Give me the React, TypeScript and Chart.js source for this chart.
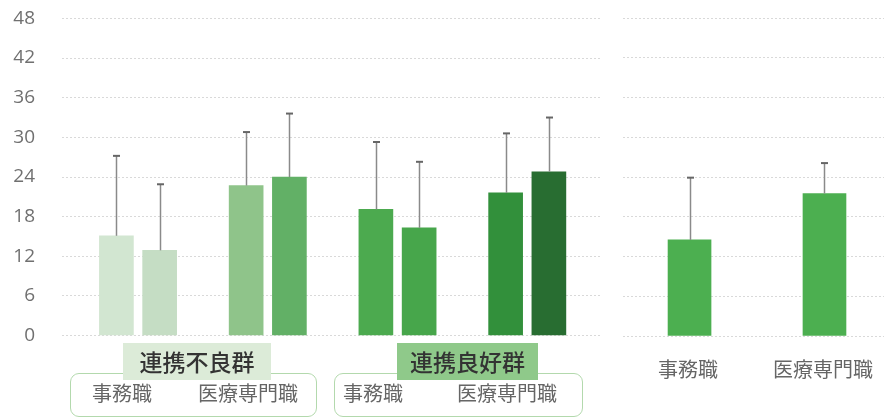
import React, { useEffect, useRef } from "react";
import { Chart, registerables } from "chart.js";

Chart.register(...registerables);

// ---- data ----
const groupNames = ["連携不良群", "連携良好群"];
const jobNames = ["事務職", "医療専門職"];
// left panel: per group, per job, two bars each
const leftMeans = [15.1, 12.9, 22.7, 24.0, 19.1, 16.3, 21.6, 24.8];
const leftSD = [12.1, 10.0, 8.1, 9.6, 10.2, 10.0, 9.0, 8.2];
const leftColors = ["#d2e6d1", "#c5ddc4", "#8fc48a", "#62b066", "#4caa4f", "#47a64b", "#32903b", "#286d31"];
// right panel: overall per job
const rightMeans = [14.5, 21.5];
const rightSD = [9.4, 4.6];
const rightColors = ["#4caf50", "#4caf50"];
const yMax = 48;
const yStep = 6;

const FONT_CJK = '"Noto Sans CJK JP", "Noto Sans", sans-serif';

function errorPlugin(means: number[], sds: number[]) {
  return {
    id: "errbars",
    afterDatasetsDraw(chart: any) {
      const ctx = chart.ctx;
      const meta = chart.getDatasetMeta(0);
      const y = chart.scales.y;
      ctx.save();
      meta.data.forEach((bar: any, i: number) => {
        const top = y.getPixelForValue(means[i] + sds[i]);
        const x = Math.round(bar.x) + 0.5;
        ctx.strokeStyle = "#8a8a8a";
        ctx.lineWidth = 1.5;
        ctx.beginPath();
        ctx.moveTo(x, bar.y);
        ctx.lineTo(x, top);
        ctx.stroke();
        ctx.strokeStyle = "#666";
        ctx.lineWidth = 2;
        ctx.beginPath();
        ctx.moveTo(x - 3.5, top);
        ctx.lineTo(x + 3.5, top);
        ctx.stroke();
      });
      ctx.restore();
    },
  };
}

function yScale(showTicks: boolean, width: number) {
  return {
    min: 0,
    max: yMax,
    ticks: {
      display: showTicks,
      stepSize: yStep,
      padding: 27,
      color: "#707070",
      font: { family: '"Open Sans", sans-serif', size: 19 },
    },
    grid: { color: "#d9d9d9", drawTicks: false, lineWidth: 1 },
    border: { display: false, dash: [2, 2] },
    afterFit: (s: any) => {
      s.width = width;
    },
  };
}

function BarPanel(props: {
  w: number;
  h: number;
  padTop: number;
  padBottom: number;
  means: number[];
  sds: number[];
  colors: string[];
  xs: number[];
  xmin: number;
  xmax: number;
  thickness: number;
  showTicks: boolean;
  axisWidth: number;
}) {
  const ref = useRef<HTMLCanvasElement>(null);
  useEffect(() => {
    const chart = new Chart(ref.current!, {
      type: "bar",
      data: {
        datasets: [
          {
            data: props.means.map((v, i) => ({ x: props.xs[i], y: v })),
            backgroundColor: props.colors,
            barThickness: props.thickness,
            borderWidth: 0,
          },
        ],
      },
      options: {
        animation: false,
        responsive: false,
        layout: { padding: { top: props.padTop, bottom: props.padBottom, left: 0, right: 0 } },
        plugins: { legend: { display: false }, tooltip: { enabled: false } },
        scales: {
          x: { type: "linear", display: false, min: props.xmin, max: props.xmax, offset: false },
          y: yScale(props.showTicks, props.axisWidth),
        },
      } as any,
      plugins: [errorPlugin(props.means, props.sds)],
    });
    return () => chart.destroy();
  }, []);
  return <canvas ref={ref} width={props.w} height={props.h} style={{ width: props.w, height: props.h, display: "block" }} />;
}

// slot index: group*3 + bar (leaving one empty slot between pairs)
const leftXs = leftMeans.map((_, i) => Math.floor(i / 2) * 3 + (i % 2));
const rightXs = rightMeans.map((_, i) => i);

const jobStyle: React.CSSProperties = {
  position: "absolute",
  fontFamily: FONT_CJK,
  fontSize: 20,
  color: "#666",
  lineHeight: "24px",
  whiteSpace: "nowrap",
};

function GroupLabel(props: { left: number; width: number; name: string; bg: string; boxLeft: number; boxWidth: number; jobXs: number[] }) {
  return (
    <>
      <div
        style={{
          position: "absolute",
          left: props.boxLeft,
          top: 373,
          width: props.boxWidth,
          height: 44,
          border: "1.5px solid #b3d9ad",
          borderRadius: 9,
          boxSizing: "border-box",
        }}
      />
      {jobNames.map((j, i) => (
        <div key={j} style={{ ...jobStyle, left: props.jobXs[i], top: 381 }}>
          {j}
        </div>
      ))}
      <div
        style={{
          position: "absolute",
          left: props.left,
          top: 343,
          width: props.width,
          height: 37,
          background: props.bg,
          fontFamily: FONT_CJK,
          fontSize: 23,
          fontWeight: 500,
          color: "#333",
          lineHeight: "37px",
          textAlign: "center",
          whiteSpace: "nowrap",
        }}
      >
        {props.name}
      </div>
    </>
  );
}

export default function App() {
  return (
    <div style={{ position: "fixed", left: 0, top: 0, width: 884, height: 419, background: "#fff", overflow: "hidden" }}>
      <div style={{ position: "absolute", left: 0, top: -20 }}>
        <BarPanel
          w={600}
          h={394}
          padTop={20}
          padBottom={20}
          means={leftMeans}
          sds={leftSD}
          colors={leftColors}
          xs={leftXs}
          xmin={-1.258}
          xmax={11.182}
          thickness={34}
          showTicks={true}
          axisWidth={62}
        />
      </div>
      <div style={{ position: "absolute", left: 600, top: 0 }}>
        <BarPanel
          w={284}
          h={348}
          padTop={18}
          padBottom={12}
          means={rightMeans}
          sds={rightSD}
          colors={rightColors}
          xs={rightXs}
          xmin={-0.493}
          xmax={1.441}
          thickness={43}
          showTicks={false}
          axisWidth={23}
        />
      </div>
      <GroupLabel left={123} width={148} name={groupNames[0]} bg="#dcebd8" boxLeft={70} boxWidth={247} jobXs={[92, 198]} />
      <GroupLabel left={397} width={141} name={groupNames[1]} bg="#8fc98a" boxLeft={334} boxWidth={249} jobXs={[343, 457]} />
      <div style={{ ...jobStyle, left: 658, top: 357 }}>{jobNames[0]}</div>
      <div style={{ ...jobStyle, left: 773, top: 357 }}>{jobNames[1]}</div>
    </div>
  );
}
